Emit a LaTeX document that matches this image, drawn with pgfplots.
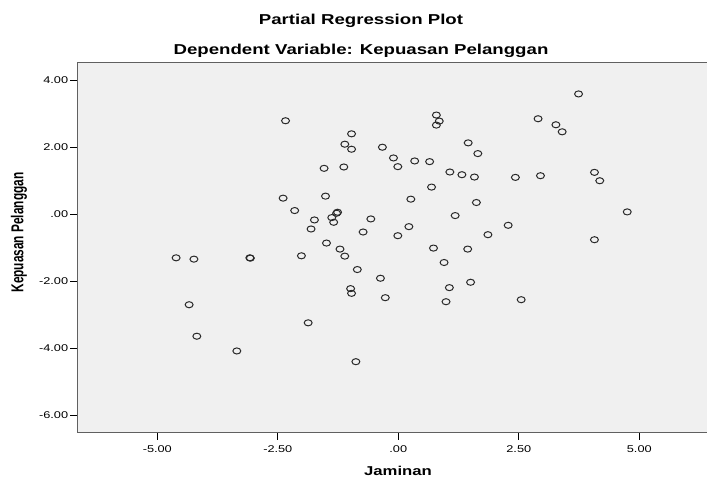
\documentclass[border=0pt]{standalone}
\usepackage{fontspec}
\setmainfont{Liberation Sans}[FakeStretch=1.3]
\newfontfamily\plainsans{Liberation Sans}
\usepackage{graphicx}
\usepackage{pgfplots}
\pgfplotsset{compat=1.18}
\definecolor{bgcol}{HTML}{F0F0F0}
\definecolor{framecol}{HTML}{606060}
\definecolor{markcol}{HTML}{2A2A2A}
\begin{document}
\begin{tikzpicture}
\begin{axis}[
  name=ax,
  scale only axis,
  width=639.1bp, height=370.5bp,
  xmin=-6.66, xmax=6.60,
  ymin=-6.519, ymax=4.537,
  axis background/.style={fill=bgcol},
  axis line style={draw=framecol, line width=1.2bp},
  tick pos=left,
  tick align=outside,
  major tick length=7bp,
  tick style={draw=black, line width=0.9bp},
  xtick={-5,-2.5,0,2.5,5},
  xticklabels={-5.00,-2.50,.00,2.50,5.00},
  ytick={-6,-4,-2,0,2,4},
  yticklabels={-6.00,-4.00,-2.00,.00,2.00,4.00},
  tick label style={font=\fontsize{9.85}{11}\selectfont, text=black},
  xticklabel style={anchor=north, inner sep=0pt, yshift=-5.3bp},
  yticklabel style={anchor=east, inner sep=0pt, xshift=-2bp},
  clip=false,
]
\addplot[only marks, mark=o, mark size=3.05bp,
  mark options={xscale=1.3, line width=1.0bp, draw=markcol}]
coordinates {
(3.74,3.59) (-2.34,2.79) (0.79,2.96) (0.85,2.78) (0.79,2.66)
(2.90,2.85) (3.27,2.67) (3.40,2.46) (-0.97,2.40) (-1.11,2.09)
(-0.97,1.94) (-0.33,2.00) (1.45,2.13) (1.65,1.81) (-1.54,1.37)
(-1.13,1.41) (-0.10,1.68) (-0.01,1.42) (0.34,1.59) (0.65,1.57)
(1.07,1.26) (1.32,1.18) (1.58,1.11) (2.43,1.10) (2.95,1.15)
(4.07,1.25) (4.18,1.00) (-2.39,0.48) (-1.51,0.54) (-2.15,0.11)
(-1.28,0.03) (-1.26,0.06) (-1.38,-0.10) (-1.34,-0.24) (-1.74,-0.17)
(-1.81,-0.44) (-0.57,-0.14) (-0.73,-0.53) (0.69,0.81) (0.26,0.45)
(1.62,0.35) (1.18,-0.04) (4.75,0.07) (0.22,-0.37) (-0.01,-0.64)
(2.28,-0.33) (1.86,-0.61) (4.07,-0.76) (0.73,-1.01) (1.44,-1.04)
(-1.49,-0.86) (-1.21,-1.04) (-1.11,-1.25) (-4.61,-1.30) (-4.24,-1.34)
(-3.08,-1.30) (-3.07,-1.31) (-2.01,-1.24) (-0.85,-1.65) (-0.37,-1.91)
(-0.99,-2.22) (-0.97,-2.36) (-0.27,-2.49) (-4.34,-2.70) (-1.87,-3.24)
(-4.18,-3.64) (-3.35,-4.08) (-0.88,-4.40) (0.95,-1.44) (1.06,-2.19)
(1.50,-2.03) (0.99,-2.61) (2.55,-2.55)
};
\end{axis}
\begin{scope}[shift={(ax.south west)}]
\node[anchor=base, inner sep=0pt, font=\bfseries\fontsize{14.4}{16}\selectfont] at (283.7bp,407.7bp) {Partial Regression Plot};
\node[anchor=base, inner sep=0pt, font=\bfseries\fontsize{14.4}{16}\selectfont] at (283.7bp,377.7bp) {Dependent Variable: Kepuasan Pelanggan};
\node[anchor=base, inner sep=0pt, font=\bfseries\fontsize{12.9}{14}\selectfont] at (320.7bp,-42.3bp) {Jaminan};
\node[anchor=base, inner sep=0pt, rotate=90] at (-54bp,200.2bp) {\scalebox{1}[1.45]{\plainsans\bfseries\fontsize{11.9}{13}\selectfont Kepuasan Pelanggan}};
\pgfresetboundingbox
\path[use as bounding box] (-77.3bp,-44.3bp) rectangle (629.7bp,432.7bp);
\end{scope}
\end{tikzpicture}
\end{document}
